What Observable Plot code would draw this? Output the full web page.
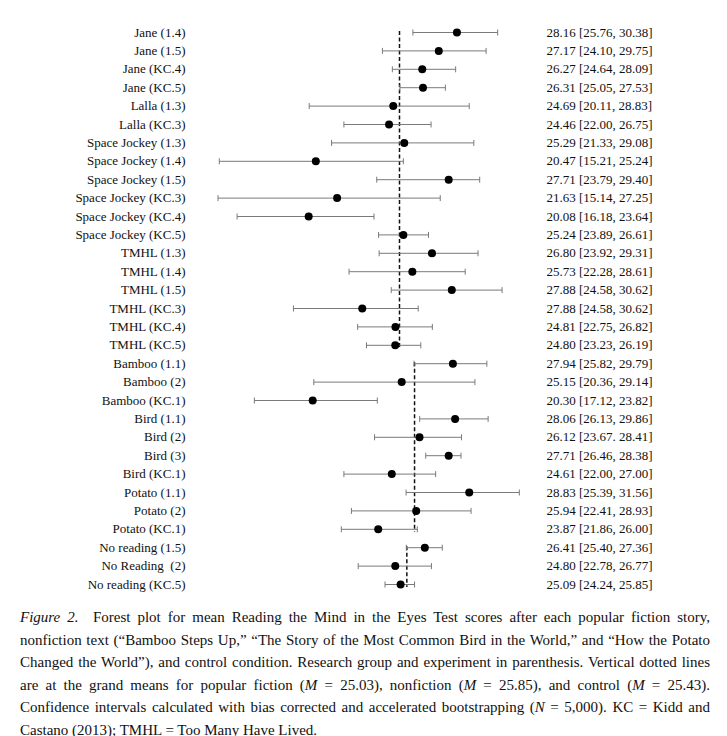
<!DOCTYPE html>
<html>
<head>
<meta charset="utf-8">
<script src="https://cdn.jsdelivr.net/npm/d3@7"></script>
<script src="https://cdn.jsdelivr.net/npm/@observablehq/plot@0.6"></script>
<style>
  body { margin: 0; background: #fff; }
  #chart { width: 727px; }
  #caption {
    font-family: "Liberation Serif", "Times New Roman", serif;
    font-size: 15px;
    line-height: 22.5px;
    color: #111;
    text-align: justify;
    width: 690px;
    margin: 8px 0 0 20px;
  }
</style>
</head>
<body>
<div id="chart"></div>
<div id="caption"><i>Figure 2.</i>&ensp; Forest plot for mean Reading the Mind in the Eyes Test scores after each popular fiction story, nonfiction text (“Bamboo Steps Up,” “The Story of the Most Common Bird in the World,” and “How the Potato Changed the World”), and control condition. Research group and experiment in parenthesis. Vertical dotted lines are at the grand means for popular fiction (<i>M</i> = 25.03), nonfiction (<i>M</i> = 25.85), and control (<i>M</i> = 25.43). Confidence intervals calculated with bias corrected and accelerated bootstrapping (<i>N</i> = 5,000). KC = Kidd and Castano (2013); TMHL = Too Many Have Lived.</div>
<script>
const labels = [
  "Jane (1.4)", "Jane (1.5)", "Jane (KC.4)", "Jane (KC.5)",
  "Lalla (1.3)", "Lalla (KC.3)",
  "Space Jockey (1.3)", "Space Jockey (1.4)", "Space Jockey (1.5)",
  "Space Jockey (KC.3)", "Space Jockey (KC.4)", "Space Jockey (KC.5)",
  "TMHL (1.3)", "TMHL (1.4)", "TMHL (1.5)", "TMHL (KC.3)", "TMHL (KC.4)", "TMHL (KC.5)",
  "Bamboo (1.1)", "Bamboo (2)", "Bamboo (KC.1)",
  "Bird (1.1)", "Bird (2)", "Bird (3)", "Bird (KC.1)",
  "Potato (1.1)", "Potato (2)", "Potato (KC.1)",
  "No reading (1.5)", "No Reading  (2)", "No reading (KC.5)"
];
// plotted means and CI bounds (as drawn)
const means = [28.16, 27.17, 26.27, 26.31, 24.69, 24.46, 25.29, 20.47, 27.71, 21.63, 20.08, 25.24,
  26.80, 25.73, 27.88, 23.00, 24.81, 24.80, 27.94, 25.15, 20.30, 28.06, 26.12, 27.71, 24.61,
  28.83, 25.94, 23.87, 26.41, 24.80, 25.09];
const lower = [25.76, 24.10, 24.64, 25.05, 20.11, 22.00, 21.33, 15.21, 23.79, 15.14, 16.18, 23.89,
  23.92, 22.28, 24.58, 19.25, 22.75, 23.23, 25.82, 20.36, 17.12, 26.13, 23.67, 26.46, 22.00,
  25.39, 22.41, 21.86, 25.40, 22.78, 24.24];
const upper = [30.38, 29.75, 28.09, 27.53, 28.83, 26.75, 29.08, 25.24, 29.40, 27.25, 23.64, 26.61,
  29.31, 28.61, 30.62, 26.05, 26.82, 26.19, 29.79, 29.14, 23.82, 29.86, 28.41, 28.38, 27.00,
  31.56, 28.93, 26.00, 27.36, 26.77, 25.85];
// reported value labels (as printed)
const valueText = [
  "28.16 [25.76, 30.38]", "27.17 [24.10, 29.75]", "26.27 [24.64, 28.09]", "26.31 [25.05, 27.53]",
  "24.69 [20.11, 28.83]", "24.46 [22.00, 26.75]", "25.29 [21.33, 29.08]", "20.47 [15.21, 25.24]",
  "27.71 [23.79, 29.40]", "21.63 [15.14, 27.25]", "20.08 [16.18, 23.64]", "25.24 [23.89, 26.61]",
  "26.80 [23.92, 29.31]", "25.73 [22.28, 28.61]", "27.88 [24.58, 30.62]", "27.88 [24.58, 30.62]",
  "24.81 [22.75, 26.82]", "24.80 [23.23, 26.19]", "27.94 [25.82, 29.79]", "25.15 [20.36, 29.14]",
  "20.30 [17.12, 23.82]", "28.06 [26.13, 29.86]", "26.12 [23.67. 28.41]", "27.71 [26.46, 28.38]",
  "24.61 [22.00, 27.00]", "28.83 [25.39, 31.56]", "25.94 [22.41, 28.93]", "23.87 [21.86, 26.00]",
  "26.41 [25.40, 27.36]", "24.80 [22.78, 26.77]", "25.09 [24.24, 25.85]"
];
// grand means per condition
const groupMeans = [25.03, 25.85, 25.43];
const groupFirst = ["Jane (1.4)", "Bamboo (1.1)", "No reading (1.5)"];
const groupLast = ["TMHL (KC.5)", "Potato (KC.1)", "No reading (KC.5)"];

const rows = labels.map((label, i) => ({label, mean: means[i], lo: lower[i], hi: upper[i], text: valueText[i]}));
const groups = groupMeans.map((m, i) => ({m, y1: groupFirst[i], y2: groupLast[i]}));

// vertical-bar symbol for whisker end caps
const capSymbol = {
  draw(context, size) {
    const h = Math.sqrt(size / Math.PI);
    context.moveTo(0, -h);
    context.lineTo(0, h);
  }
};

const whisker = "#7a7a7a";
const chart = Plot.plot({
  width: 727,
  height: 598,
  marginTop: 32,
  marginBottom: 14,
  marginLeft: 196.6,
  marginRight: 200.1,
  style: {fontFamily: "'Liberation Serif', 'Times New Roman', serif", fontSize: "13px", color: "#111", background: "#fff"},
  x: {domain: [14, 32], axis: null},
  y: {type: "point", domain: labels, padding: 0, round: false, tickSize: 0, tickPadding: 11.6, label: null},
  marks: [
    Plot.ruleX(groups, {x: "m", y1: "y1", y2: "y2", stroke: "#111", strokeWidth: 1.5, strokeDasharray: "4,2.5", insetTop: -1, insetBottom: -3}),
    Plot.link(rows, {x1: "lo", x2: "hi", y1: "label", y2: "label", stroke: whisker, strokeWidth: 1}),
    Plot.dot(rows, {x: "lo", y: "label", symbol: capSymbol, r: 3, stroke: whisker, strokeWidth: 1, fill: "none"}),
    Plot.dot(rows, {x: "hi", y: "label", symbol: capSymbol, r: 3, stroke: whisker, strokeWidth: 1, fill: "none"}),
    Plot.dot(rows, {x: "mean", y: "label", r: 4, fill: "#000", stroke: "none"}),
    Plot.text(rows, {y: "label", text: "text", frameAnchor: "right", textAnchor: "start", dx: 19, fill: "#111"})
  ]
});
document.getElementById("chart").appendChild(chart);
</script>
</body>
</html>
